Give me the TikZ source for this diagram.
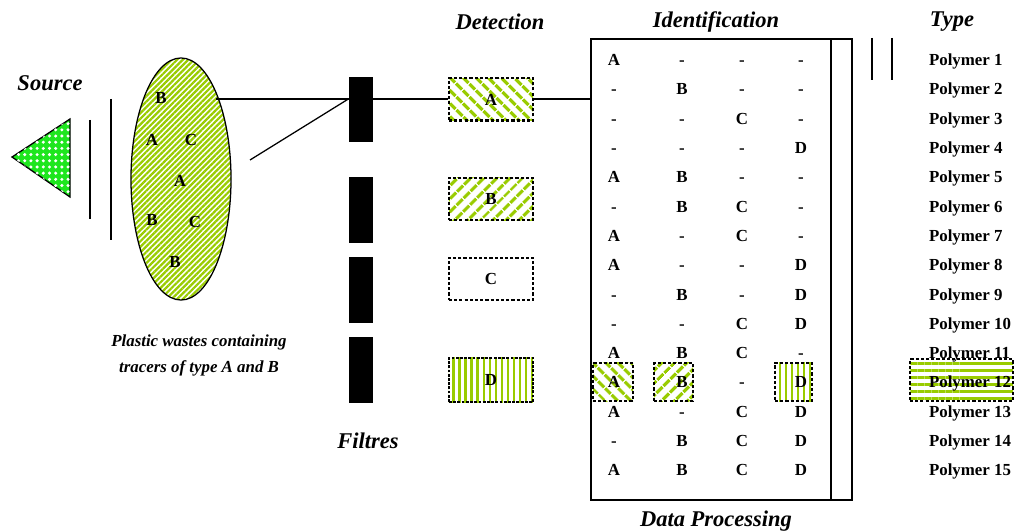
\documentclass[tikz,border=0pt]{standalone}
\usepackage{fontspec}
\setmainfont{Liberation Serif}
\usepackage{tikz}
\usetikzlibrary{shapes.geometric,patterns.meta}

\definecolor{stripe}{RGB}{153,204,0}
\definecolor{bubble}{RGB}{30,230,30}

\tikzset{
  head/.style={font=\fontsize{16}{18}\selectfont\bfseries\itshape},
  caption/.style={font=\fontsize{12}{18.5}\selectfont\bfseries\itshape, align=center},
  lbl/.style={font=\fontsize{12}{14}\selectfont\bfseries, inner sep=1pt, text height=8pt, text depth=0pt},
  dotbox/.style={draw, line width=2pt, dash pattern=on 2.2pt off 1.5pt, inner sep=0pt},
  filtre/.style={fill=black, minimum width=0.6cm, minimum height=1.625cm, inner sep=0pt},
  back/.style={preaction={solid, pattern={Lines[angle=-45,distance=6.5pt,line width=2.6pt]}, pattern color=stripe}},
  fore/.style={preaction={solid, pattern={Lines[angle=45,distance=6.5pt,line width=2.6pt]}, pattern color=stripe}},
  upright/.style={preaction={solid, pattern={Lines[angle=90,distance=4.3pt,line width=1.7pt]}, pattern color=stripe}},
  flat/.style={preaction={solid, pattern={Lines[angle=0,distance=5pt,line width=1.8pt]}, pattern color=stripe}}
}

\begin{document}
\begin{tikzpicture}[x=0.025cm,y=-0.025cm,line width=0.9pt]
  \useasboundingbox (0,0) rectangle (1015,532);
  % Source and shields
  \draw[fill=bubble, postaction={pattern={Dots[distance=4.4pt,radius=1.2pt]}, pattern color=white}]
    (12,157) -- (70,119) -- (70,197) -- cycle;
  \node[head] (srcl) at (50,83) {Source};
  \draw (90,120) -- (90,219);
  \draw (111,99) -- (111,240);
  % Plastic wastes
  \node[ellipse, draw, minimum width=2.5cm, minimum height=6.05cm,
    pattern={Lines[angle=45,distance=2.8pt,line width=1.6pt]}, pattern color=stripe] (wastes) at (181,179) {};
  \foreach \x/\y/\t [count=\i] in {161/98/B, 152/140/A, 191/140/C, 180/181/A, 152/220/B, 195/222/C, 175/262/B}
    \node[lbl] (tr\i) at (\x,\y) {\t};
  \node[caption] (wastel) at (199,355) {Plastic wastes containing\\tracers of type A and B};
  % Filtres
  \foreach \y [count=\i] in {109.5,210,290,370}
    \node[filtre] (f\i) at (361,\y) {};
  \node[head] (filtl) at (368,441) {Filtres};
  % Detection
  \node[head] (detl) at (500,22) {Detection};
  \node[dotbox, back, minimum width=2.1cm, minimum height=1.07cm] (detA) at (491,99.5) {};
  \node[dotbox, fore, minimum width=2.1cm, minimum height=1.05cm] (detB) at (491,199) {};
  \node[dotbox, minimum width=2.1cm, minimum height=1.05cm] (detC) at (491,279) {};
  \node[dotbox, upright, line width=1.2pt, dash pattern=on 2pt off 1pt, minimum width=2.1cm, minimum height=1.1cm] (detD) at (491,380) {};
  \foreach \t in {A,B,C,D}
    \node[lbl] (dl\t) at (det\t) {\t};
  % Identification table
  \node[head] (idl) at (716,22) {Identification};
  \node[draw, line width=1.3pt, minimum width=6.525cm, minimum height=11.525cm, inner sep=0pt] (tab) at (721.5,269.5) {};
  \draw[line width=1.3pt] (831,39) -- (831,500);
  \node[head] (dpl) at (716,521) {Data Processing};
  % highlighted row
  \node[dotbox, back, minimum width=1cm, minimum height=0.95cm] (hA) at (613,382) {};
  \node[dotbox, fore, minimum width=0.975cm, minimum height=0.95cm] (hB) at (673.5,382) {};
  \node[dotbox, upright, minimum width=0.925cm, minimum height=0.95cm] (hD) at (793.5,382) {};
  \node[dotbox, flat, minimum width=2.575cm, minimum height=1.05cm] (h12) at (961.5,380) {};
  \foreach \a/\b/\c/\d [count=\r] in {A/-/-/-, -/B/-/-, -/-/C/-, -/-/-/D, A/B/-/-,
      -/B/C/-, A/-/C/-, A/-/-/D, -/B/-/D, -/-/C/D, A/B/C/-, A/B/-/D, A/-/C/D, -/B/C/D, A/B/C/D}{
    \node[lbl] (a\r) at (614,{60+(\r-1)*29.3}) {\a};
    \node[lbl] (b\r) at (682,{60+(\r-1)*29.3}) {\b};
    \node[lbl] (c\r) at (742,{60+(\r-1)*29.3}) {\c};
    \node[lbl] (d\r) at (801,{60+(\r-1)*29.3}) {\d};
    \node[lbl, anchor=west] (p\r) at (927,{60+(\r-1)*29.3}) {Polymer \r};
  }
  % Type
  \node[head] (typl) at (952,22) {Type};
  \draw (872,38) -- (872,80);
  \draw (892,38) -- (892,80);
  % Connectors
  \coordinate (tap) at (216,99);
  \coordinate (ray) at (250,160);
  \coordinate (hit) at (f1.west |- tap);
  \draw (tap) -- (detA.west |- tap);
  \draw (ray) -- (hit);
  \draw (detA.east |- tap) -- (tab.west |- tap);
\end{tikzpicture}
\end{document}
